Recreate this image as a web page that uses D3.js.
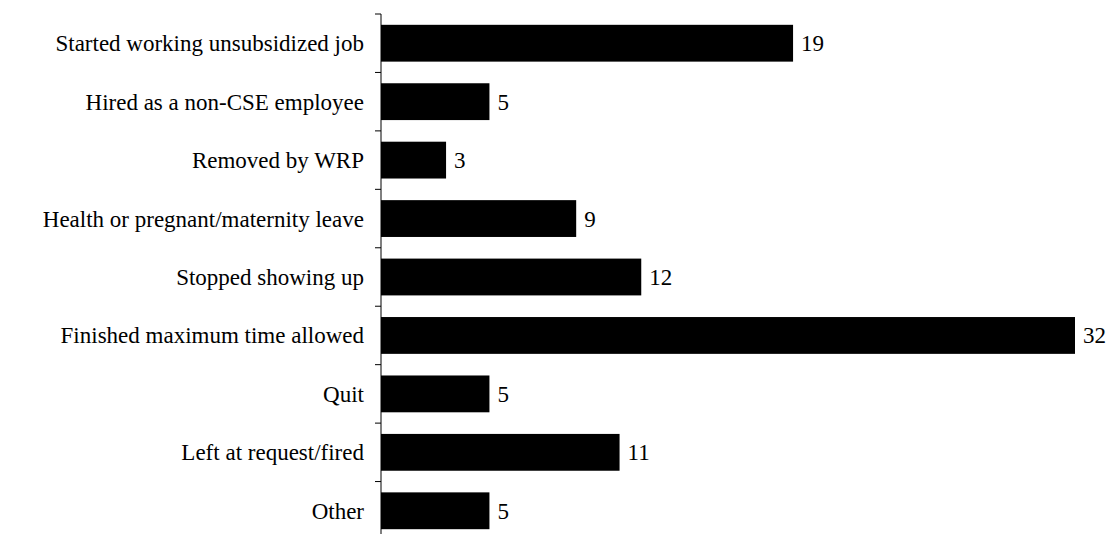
<!DOCTYPE html>
<html>
<head>
<meta charset="utf-8">
<script src="https://cdn.jsdelivr.net/npm/d3@7"></script>
<style>
  body { margin: 0; background: #fff; }
  text { font-family: "Liberation Serif", "DejaVu Serif", serif; fill: #000; }
</style>
</head>
<body>
<script>
const categories = [
  "Started working unsubsidized job",
  "Hired as a non-CSE employee",
  "Removed by WRP",
  "Health or pregnant/maternity leave",
  "Stopped showing up",
  "Finished maximum time allowed",
  "Quit",
  "Left at request/fired",
  "Other"
];
const values = [19, 5, 3, 9, 12, 32, 5, 11, 5];

const width = 1110, height = 534;

const svg = d3.select("body").append("svg")
  .attr("width", width)
  .attr("height", height);

const x = d3.scaleLinear().domain([0, 32]).range([381, 1075]);
const y = d3.scaleBand().domain(categories).range([14, 540]).paddingInner(0.37).paddingOuter(0.185);

// axis line + small ticks between categories
const bandEdges = categories.map(function (d) { return y(d) - y.step() * y.paddingInner() / 2; });

svg.append("line")
  .attr("x1", x(0)).attr("x2", x(0))
  .attr("y1", 14).attr("y2", height)
  .attr("stroke", "#000").attr("stroke-width", 1);

svg.append("g").selectAll("line")
  .data(bandEdges)
  .enter().append("line")
  .attr("x1", x(0) - 6).attr("x2", x(0))
  .attr("y1", function (d) { return d; })
  .attr("y2", function (d) { return d; })
  .attr("stroke", "#000").attr("stroke-width", 1);

// bars
svg.append("g").selectAll("rect")
  .data(values)
  .enter().append("rect")
  .attr("x", x(0))
  .attr("y", function (d, i) { return y(categories[i]); })
  .attr("width", function (d) { return x(d) - x(0); })
  .attr("height", y.bandwidth())
  .attr("fill", "#000");

// category labels
svg.append("g").selectAll("text")
  .data(categories)
  .enter().append("text")
  .text(function (d) { return d; })
  .attr("text-anchor", "end")
  .attr("x", 364)
  .attr("y", function (d) { return y(d) + y.bandwidth() / 2; })
  .attr("dy", "0.35em")
  .style("font-size", "23px");

// value labels
svg.append("g").selectAll("text")
  .data(values)
  .enter().append("text")
  .text(function (d) { return d; })
  .attr("x", function (d) { return x(d) + 8; })
  .attr("y", function (d, i) { return y(categories[i]) + y.bandwidth() / 2; })
  .attr("dy", "0.35em")
  .style("font-size", "23px");
</script>
</body>
</html>
